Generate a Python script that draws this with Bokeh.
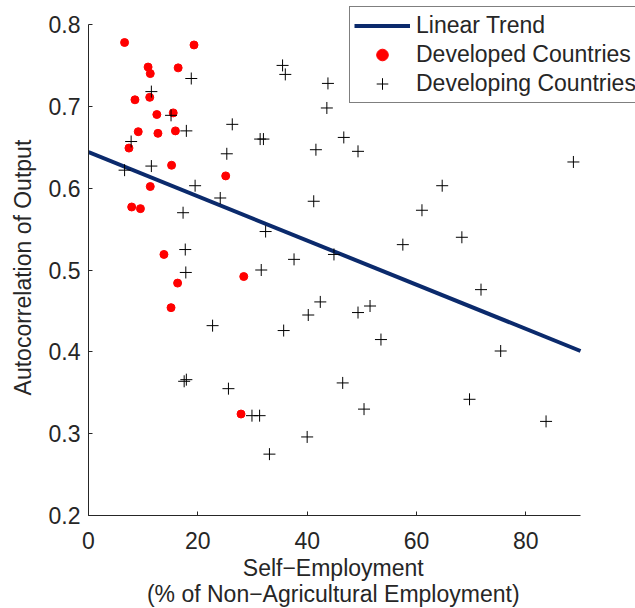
from bokeh.plotting import figure
from bokeh.models import Legend, LegendItem, FixedTicker
from bokeh.embed import file_html
from bokeh.resources import INLINE

# ---- data ----
trend_x = [0, 90]
trend_y = [0.644, 0.401]

developed_x = [6.6, 19.3, 10.9, 11.3, 16.4, 8.5, 11.2, 12.5, 15.5, 9.1, 12.7, 15.9,
               7.4, 15.2, 25.1, 11.3, 7.9, 9.5, 13.8, 28.4, 16.3, 15.1, 27.9]
developed_y = [0.778, 0.775, 0.748, 0.740, 0.747, 0.708, 0.711, 0.690, 0.692, 0.669, 0.667, 0.670,
               0.649, 0.628, 0.615, 0.602, 0.577, 0.575, 0.519, 0.492, 0.484, 0.454, 0.324]

developing_x = [18.8, 11.5, 15.1, 26.3, 17.9, 7.8, 25.3, 11.5, 6.6, 19.5, 24.1, 17.3,
                17.7, 17.8, 22.7, 17.5, 17.9, 25.6,
                35.5, 36.0, 43.8, 43.6, 31.4, 32.0, 46.7, 41.6, 49.3, 41.2, 61.0, 32.4, 57.5,
                37.6, 44.9, 31.6, 42.4, 40.2, 49.3, 51.5, 35.7, 53.5, 46.5, 29.9, 31.3, 50.4, 40.0, 33.1,
                88.7, 64.7, 68.3, 71.8, 75.4, 69.7, 83.7]
developing_y = [0.734, 0.718, 0.689, 0.678, 0.670, 0.657, 0.642, 0.627, 0.622, 0.603, 0.588, 0.570,
                0.525, 0.497, 0.432, 0.364, 0.366, 0.355,
                0.750, 0.739, 0.728, 0.698, 0.660, 0.660, 0.662, 0.647, 0.645, 0.584, 0.573, 0.547, 0.531,
                0.513, 0.519, 0.500, 0.461, 0.445, 0.448, 0.456, 0.426, 0.415, 0.362, 0.322, 0.322, 0.330, 0.296, 0.275,
                0.632, 0.603, 0.540, 0.476, 0.401, 0.342, 0.315]

x_ticks = [0, 20, 40, 60, 80]
y_ticks = [0.2, 0.3, 0.4, 0.5, 0.6, 0.7, 0.8]

FONT = "Liberation Sans"
TXT = "#262626"
NB = "\u00a0"

# frame extended to the top and right so that the legend (which overhangs the axes) is not clipped
p = figure(frame_width=547, frame_height=515,
           x_range=(0, 90 * 547 / 492), y_range=(0.2, 0.2 + 0.6 * 515 / 491),
           output_backend="svg", toolbar_location=None,
           min_border_left=88, min_border_right=0, min_border_top=0, min_border_bottom=93)
p.outline_line_color = None
p.xgrid.visible = False
p.ygrid.visible = False
p.background_fill_color = "white"

line_r = p.line(trend_x, trend_y, line_color="#0b2a6c", line_width=4)
dev_r = p.scatter(developed_x, developed_y, marker="circle", size=8,
                  fill_color="#ff0000", line_color="#ff0000")
ing_r = p.scatter(developing_x, developing_y, marker="cross", size=12,
                  line_color="#000000", line_width=1)

for ax in (p.xaxis[0], p.yaxis[0]):
    ax.major_label_text_font = FONT
    ax.major_label_text_font_size = "23px"
    ax.major_label_text_color = TXT
    ax.axis_label_text_font = FONT
    ax.axis_label_text_font_size = "23px"
    ax.axis_label_text_font_style = "normal"
    ax.axis_label_text_color = TXT
    ax.axis_line_color = TXT
    ax.axis_line_width = 1
    ax.major_tick_line_color = TXT
    ax.major_tick_in = 4
    ax.major_tick_out = 0
    ax.minor_tick_line_color = None

p.xaxis.bounds = (0, 90)
p.yaxis.bounds = (0.2, 0.8)
p.xaxis.ticker = FixedTicker(ticks=x_ticks)
p.yaxis.ticker = FixedTicker(ticks=y_ticks)
p.xaxis.axis_label = "Self\u2212Employment" + NB * 9 + "\n(% of Non\u2212Agricultural Employment)" + NB * 9
p.yaxis.axis_label = "Autocorrelation of Output" + NB * 3
p.xaxis.axis_label_text_line_height = 1.03
p.xaxis.major_label_standoff = 16
p.yaxis.major_label_standoff = 8
p.xaxis.axis_label_standoff = 3
p.yaxis.axis_label_standoff = 10

legend = Legend(items=[LegendItem(label="Linear Trend", renderers=[line_r]),
                       LegendItem(label="Developed Countries", renderers=[dev_r]),
                       LegendItem(label="Developing Countries", renderers=[ing_r])],
                location=(261, 412))
legend.label_text_font = FONT
legend.label_text_font_size = "23px"
legend.label_text_color = TXT
legend.label_height = 29
legend.glyph_height = 29
legend.glyph_width = 56
legend.label_standoff = 6
legend.padding = 4
legend.spacing = 0
legend.margin = 0
legend.border_line_color = "#000000"
legend.border_line_width = 1
legend.background_fill_color = "white"
legend.background_fill_alpha = 1
p.add_layout(legend, "center")

open("out.html", "w").write(file_html(p, INLINE))
